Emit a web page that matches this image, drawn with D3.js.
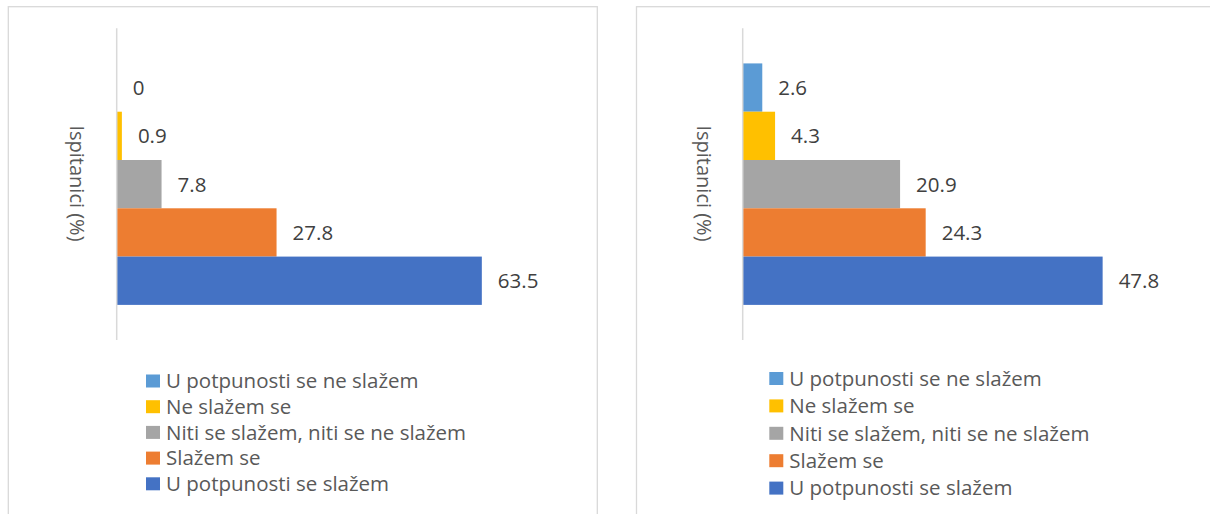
<!DOCTYPE html>
<html>
<head>
<meta charset="utf-8">
<script src="https://cdn.jsdelivr.net/npm/d3@7"></script>
<style>
  body { margin: 0; background: #ffffff; }
  svg { display: block; font-family: "Open Sans", "Noto Sans", sans-serif; }
</style>
</head>
<body>
<div id="chart"></div>
<script>
// categories, top bar to bottom bar (also legend order)
const CATEGORIES = [
    "U potpunosti se ne slažem",
    "Ne slažem se",
    "Niti se slažem, niti se ne slažem",
    "Slažem se",
    "U potpunosti se slažem"
];
const LEFT_VALUES = [0, 0.9, 7.8, 27.8, 63.5];
const RIGHT_VALUES = [2.6, 4.3, 20.9, 24.3, 47.8];
const AXIS_TITLE = "Ispitanici (%)";

const COLORS = ["#5b9bd5", "#ffc000", "#a5a5a5", "#ed7d31", "#4472c4"];

const FRAME_WIDTH = 1210;
const FRAME_HEIGHT = 514;

const SVG = d3.select("#chart")
              .append("svg")
                .attr("width", FRAME_WIDTH)
                .attr("height", FRAME_HEIGHT);

const COLOR_SCALE = d3.scaleOrdinal().domain(CATEGORIES).range(COLORS);

// one panel = border, axis line, bars, labels, title, legend
function drawPanel(values, p) {
    const g = SVG.append("g");

    // chart frame
    g.append("rect")
        .attr("x", p.frameX)
        .attr("y", 6.7)
        .attr("width", p.frameW)
        .attr("height", 600)
        .attr("fill", "none")
        .attr("stroke", "#d9d9d9")
        .attr("stroke-width", 1.3);

    const X_SCALE = d3.scaleLinear()
            .domain([0, p.xMax])
            .range([p.axisX, p.axisX + p.plotW]);

    const Y_SCALE = d3.scaleBand()
            .domain(CATEGORIES)
            .range([28.3, 340])
            .paddingInner(0)
            .paddingOuter(0.727);

    const data = CATEGORIES.map((c, i) => ({cat: c, val: values[i]}));

    g.selectAll(".bar")
        .data(data)
        .enter()
        .append("rect")
          .attr("x", X_SCALE(0))
          .attr("y", (d) => Y_SCALE(d.cat))
          .attr("width", (d) => X_SCALE(d.val) - X_SCALE(0))
          .attr("height", Y_SCALE.bandwidth())
          .attr("fill", (d) => COLOR_SCALE(d.cat));

    // category axis line (no ticks, no labels)
    g.append("line")
        .attr("x1", X_SCALE(0)).attr("x2", X_SCALE(0))
        .attr("y1", 28.3).attr("y2", 340)
        .attr("stroke", "#d9d9d9")
        .attr("stroke-width", 1.5);

    // data labels
    g.selectAll(".lbl")
        .data(data)
        .enter()
        .append("text")
          .attr("x", (d) => X_SCALE(d.val) + 16)
          .attr("y", (d) => Y_SCALE(d.cat) + Y_SCALE.bandwidth() / 2)
          .attr("dy", "0.36em")
          .attr("font-size", "20.5px")
          .attr("fill", "#404040")
          .text((d) => d.val);

    // axis title, reads top to bottom
    g.append("text")
        .attr("transform", "translate(" + p.titleX + ",183.5) rotate(90)")
        .attr("text-anchor", "middle")
        .attr("dy", "0.36em")
        .attr("font-size", "20px")
        .attr("fill", "#595959")
        .text(AXIS_TITLE);

    // legend
    const LEG_Y = d3.scalePoint()
            .domain(CATEGORIES)
            .range([p.legTop, p.legTop + 4 * p.legStep]);

    const leg = g.selectAll(".leg")
        .data(CATEGORIES)
        .enter()
        .append("g")
          .attr("transform", (d) => "translate(" + p.legX + "," + LEG_Y(d) + ")");

    leg.append("rect")
        .attr("x", 0).attr("y", -6.5)
        .attr("width", 14).attr("height", 13)
        .attr("fill", (d) => COLOR_SCALE(d));

    leg.append("text")
        .attr("x", 20)
        .attr("dy", "0.36em")
        .attr("font-size", "20.5px")
        .attr("fill", "#595959")
        .text((d) => d);
}

drawPanel(LEFT_VALUES, {
    frameX: 8.3, frameW: 589, axisX: 116.7, xMax: 70, plotW: 402.5,
    titleX: 77.5, legX: 146, legTop: 381, legStep: 25.7
});

drawPanel(RIGHT_VALUES, {
    frameX: 636.5, frameW: 700, axisX: 742.7, xMax: 50, plotW: 376.5,
    titleX: 704, legX: 769.3, legTop: 378.5, legStep: 27.4
});
</script>
</body>
</html>
